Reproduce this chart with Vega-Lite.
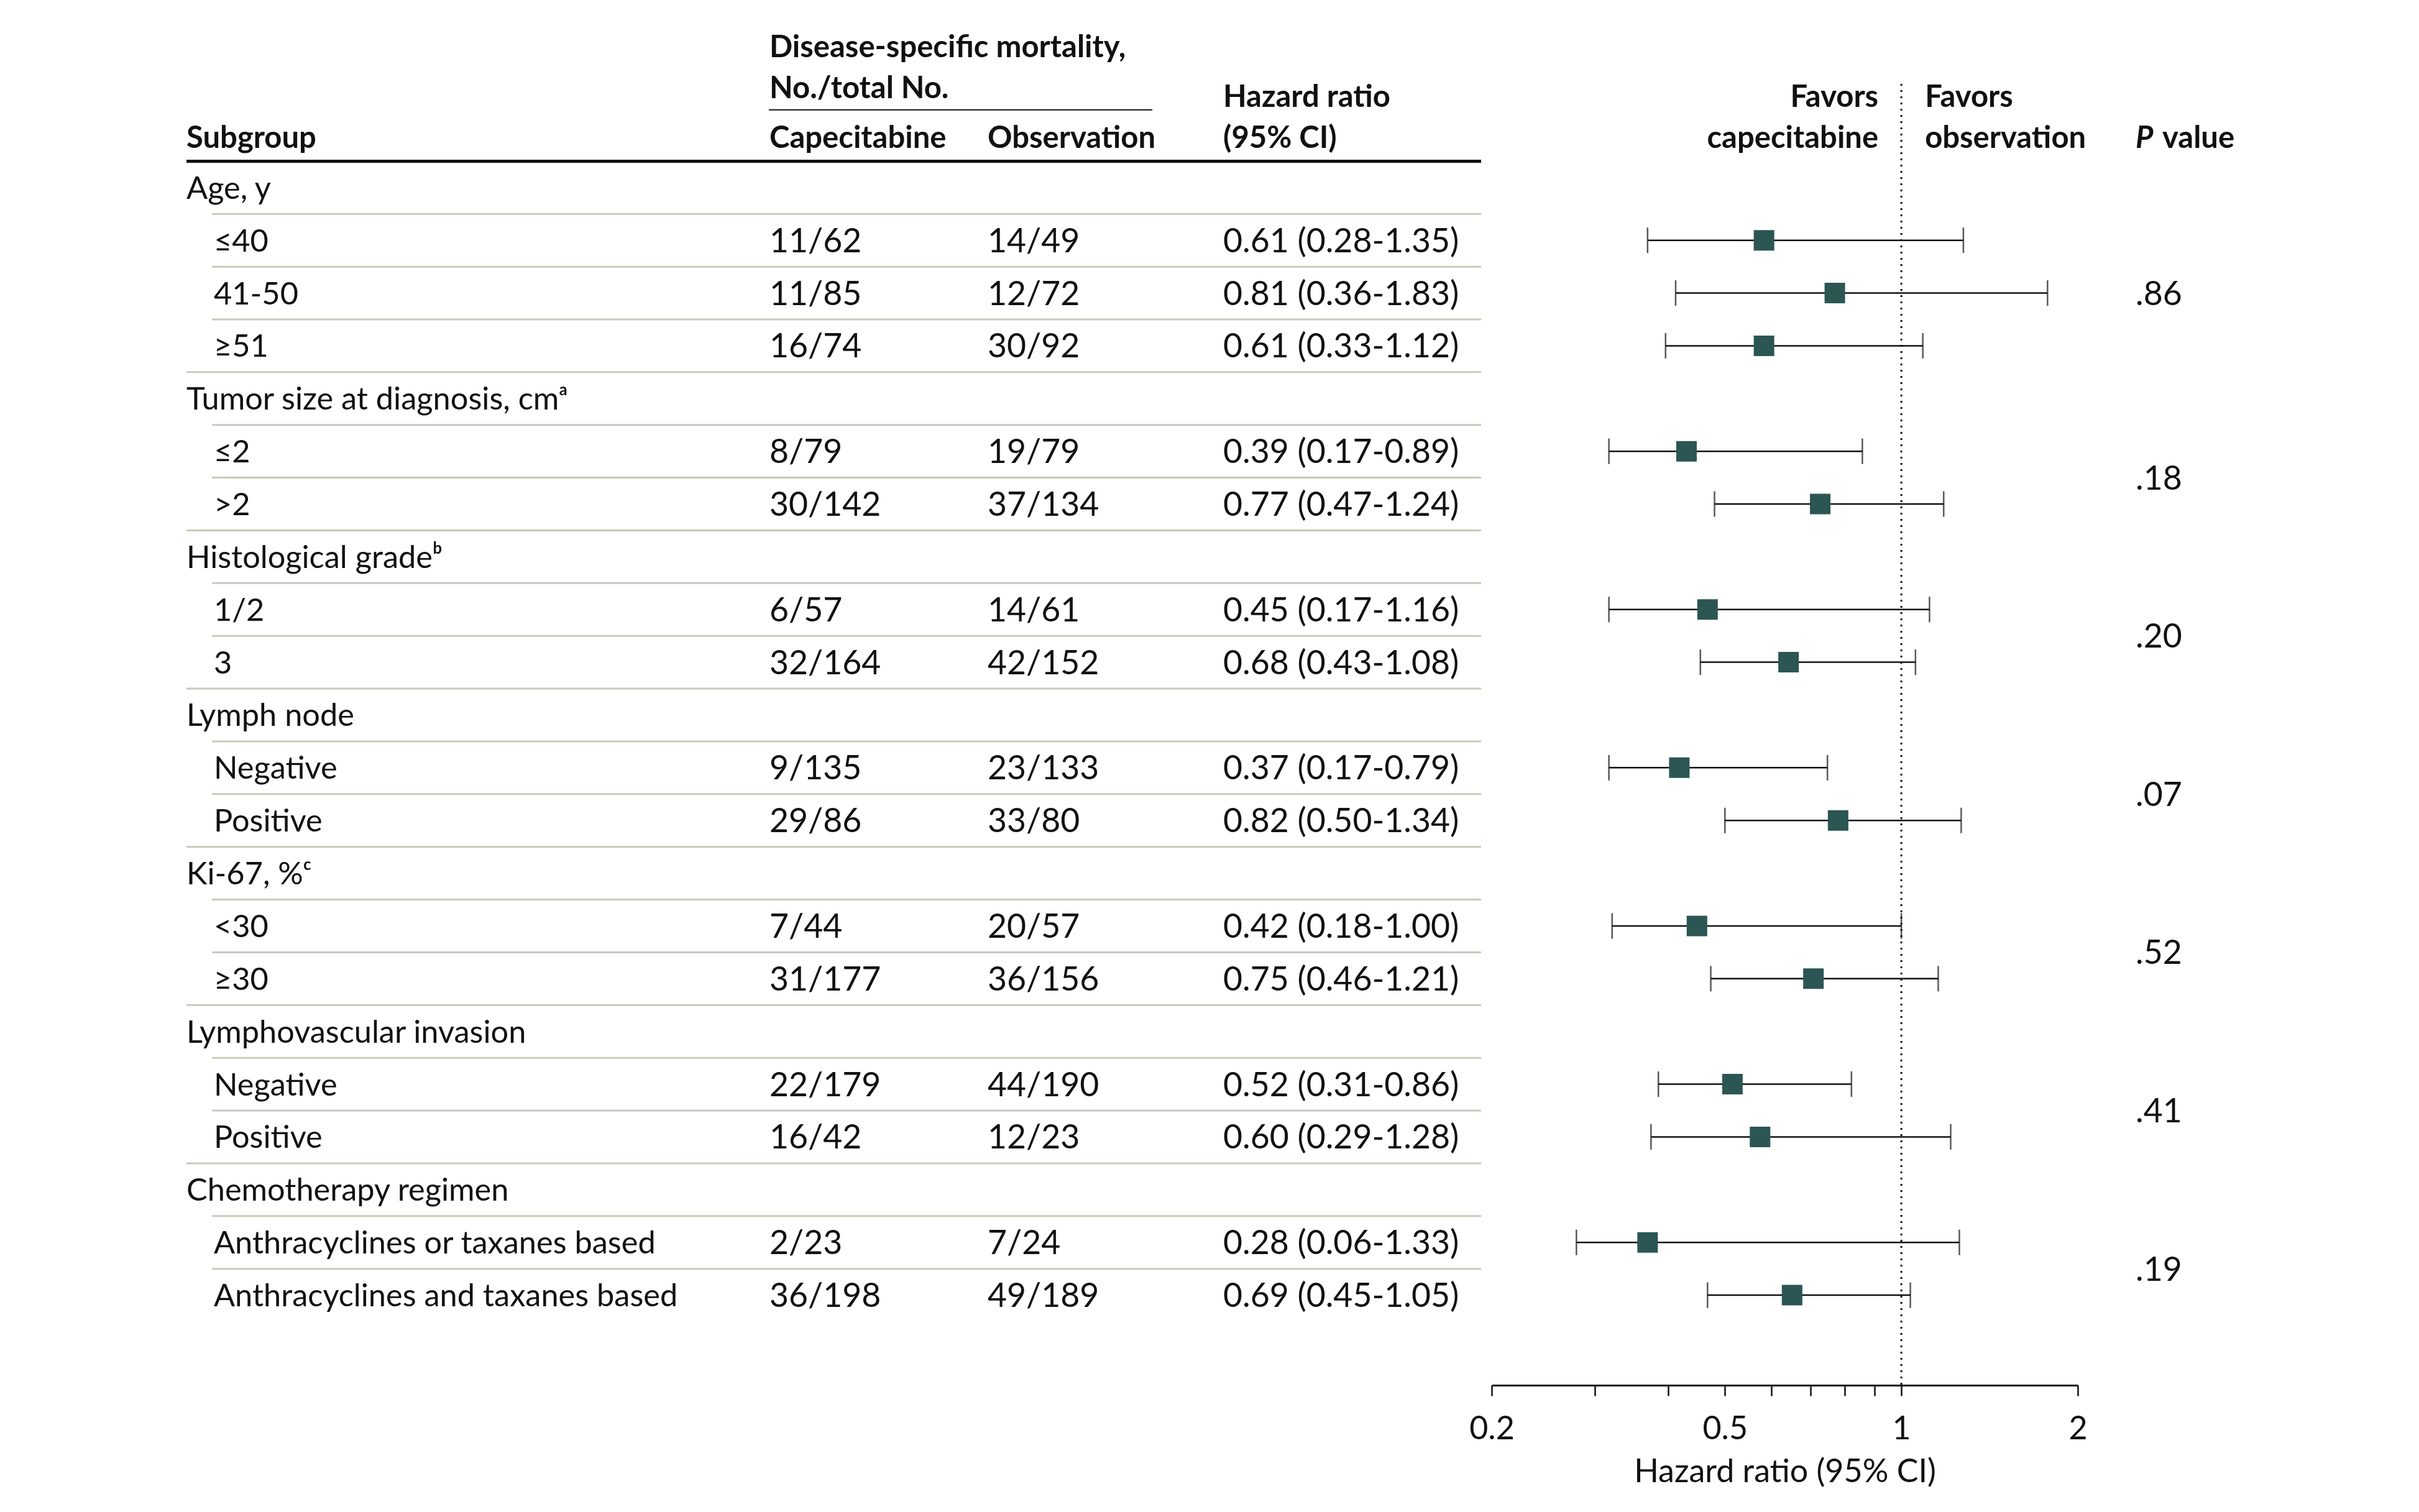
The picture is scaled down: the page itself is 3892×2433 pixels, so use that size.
{
  "$schema": "https://vega.github.io/schema/vega-lite/v6.json",
  "width": 3892,
  "height": 2229,
  "padding": 0,
  "autosize": {"type": "pad"},
  "background": "white",
  "config": {
    "view": {"stroke": null},
    "font": "Lato",
    "text": {"font": "Lato", "fontSize": 52, "color": "#111111", "baseline": "middle", "align": "left", "dy": 3}
  },
  "datasets": {
    "rows": [
      {"r": 0, "type": "cat", "label": "Age, y", "group": "Age"},
      {"r": 1, "type": "item", "group": "Age", "label": "≤40", "cap": "11/62", "obs": "14/49", "hr": "0.61 (0.28-1.35)", "plot_hr": 0.583, "plot_lo": 0.369, "plot_hi": 1.276, "p": ".86"},
      {"r": 2, "type": "item", "group": "Age", "label": "41-50", "cap": "11/85", "obs": "12/72", "hr": "0.81 (0.36-1.83)", "plot_hr": 0.770, "plot_lo": 0.412, "plot_hi": 1.776, "p": ".86"},
      {"r": 3, "type": "item", "group": "Age", "label": "≥51", "cap": "16/74", "obs": "30/92", "hr": "0.61 (0.33-1.12)", "plot_hr": 0.583, "plot_lo": 0.396, "plot_hi": 1.088, "p": ".86"},
      {"r": 4, "type": "cat", "label": "Tumor size at diagnosis, cmᵃ", "group": "Tumor"},
      {"r": 5, "type": "item", "group": "Tumor", "label": "≤2", "cap": "8/79", "obs": "19/79", "hr": "0.39 (0.17-0.89)", "plot_hr": 0.430, "plot_lo": 0.317, "plot_hi": 0.858, "p": ".18"},
      {"r": 6, "type": "item", "group": "Tumor", "label": ">2", "cap": "30/142", "obs": "37/134", "hr": "0.77 (0.47-1.24)", "plot_hr": 0.727, "plot_lo": 0.480, "plot_hi": 1.181, "p": ".18"},
      {"r": 7, "type": "cat", "label": "Histological gradeᵇ", "group": "Grade"},
      {"r": 8, "type": "item", "group": "Grade", "label": "1/2", "cap": "6/57", "obs": "14/61", "hr": "0.45 (0.17-1.16)", "plot_hr": 0.467, "plot_lo": 0.317, "plot_hi": 1.117, "p": ".20"},
      {"r": 9, "type": "item", "group": "Grade", "label": "3", "cap": "32/164", "obs": "42/152", "hr": "0.68 (0.43-1.08)", "plot_hr": 0.642, "plot_lo": 0.454, "plot_hi": 1.057, "p": ".20"},
      {"r": 10, "type": "cat", "label": "Lymph node", "group": "Lymph"},
      {"r": 11, "type": "item", "group": "Lymph", "label": "Negative", "cap": "9/135", "obs": "23/133", "hr": "0.37 (0.17-0.79)", "plot_hr": 0.418, "plot_lo": 0.317, "plot_hi": 0.748, "p": ".07"},
      {"r": 12, "type": "item", "group": "Lymph", "label": "Positive", "cap": "29/86", "obs": "33/80", "hr": "0.82 (0.50-1.34)", "plot_hr": 0.780, "plot_lo": 0.500, "plot_hi": 1.265, "p": ".07"},
      {"r": 13, "type": "cat", "label": "Ki-67, %ᶜ", "group": "Ki67"},
      {"r": 14, "type": "item", "group": "Ki67", "label": "<30", "cap": "7/44", "obs": "20/57", "hr": "0.42 (0.18-1.00)", "plot_hr": 0.448, "plot_lo": 0.321, "plot_hi": 1.0, "p": ".52"},
      {"r": 15, "type": "item", "group": "Ki67", "label": "≥30", "cap": "31/177", "obs": "36/156", "hr": "0.75 (0.46-1.21)", "plot_hr": 0.708, "plot_lo": 0.473, "plot_hi": 1.156, "p": ".52"},
      {"r": 16, "type": "cat", "label": "Lymphovascular invasion", "group": "LVI"},
      {"r": 17, "type": "item", "group": "LVI", "label": "Negative", "cap": "22/179", "obs": "44/190", "hr": "0.52 (0.31-0.86)", "plot_hr": 0.515, "plot_lo": 0.385, "plot_hi": 0.822, "p": ".41"},
      {"r": 18, "type": "item", "group": "LVI", "label": "Positive", "cap": "16/42", "obs": "12/23", "hr": "0.60 (0.29-1.28)", "plot_hr": 0.574, "plot_lo": 0.374, "plot_hi": 1.214, "p": ".41"},
      {"r": 19, "type": "cat", "label": "Chemotherapy regimen", "group": "Chemo"},
      {"r": 20, "type": "item", "group": "Chemo", "label": "Anthracyclines or taxanes based", "cap": "2/23", "obs": "7/24", "hr": "0.28 (0.06-1.33)", "plot_hr": 0.369, "plot_lo": 0.279, "plot_hi": 1.256, "p": ".19"},
      {"r": 21, "type": "item", "group": "Chemo", "label": "Anthracyclines and taxanes based", "cap": "36/198", "obs": "49/189", "hr": "0.69 (0.45-1.05)", "plot_hr": 0.651, "plot_lo": 0.467, "plot_hi": 1.036, "p": ".19"}
    ]
  },
  "data": {"name": "rows"},
  "resolve": {"scale": {"x": "independent"}, "axis": {"x": "independent"}},
  "layer": [
    {
      "layer": [
        {
          "transform": [{"filter": "datum.type == 'cat'"}],
          "mark": {"type": "rule", "yOffset": -42.4},
          "encoding": {
            "x": {"datum": 300, "type": "quantitative", "scale": {"domain": [0, 3892], "nice": false, "zero": false}, "axis": null},
            "x2": {"datum": 2383},
            "y": {"field": "r", "type": "quantitative", "scale": {"domain": [-3.556, 22.708], "reverse": true, "nice": false, "zero": false}, "axis": null},
            "color": {"condition": {"test": "datum.r == 0", "value": "#111111"}, "value": "#c9cabb"},
            "strokeWidth": {"condition": {"test": "datum.r == 0", "value": 5}, "value": 3}
          }
        },
        {
          "transform": [{"filter": "datum.type == 'item'"}],
          "mark": {"type": "rule", "yOffset": -42.4, "color": "#c9cabb", "strokeWidth": 3},
          "encoding": {
            "x": {"datum": 341, "type": "quantitative", "scale": {"domain": [0, 3892], "nice": false, "zero": false}, "axis": null},
            "x2": {"datum": 2383},
            "y": {"field": "r", "type": "quantitative", "axis": null}
          }
        },
        {
          "data": {"values": [{}]},
          "mark": {"type": "rule", "color": "#111111", "strokeWidth": 2},
          "encoding": {
            "x": {"datum": 1237, "type": "quantitative", "scale": {"domain": [0, 3892], "nice": false, "zero": false}, "axis": null},
            "x2": {"datum": 1854},
            "y": {"datum": -1.474, "type": "quantitative", "axis": null}
          }
        },
        {
          "transform": [{"filter": "datum.type == 'cat'"}],
          "mark": {"type": "text", "fontSize": 50.5},
          "encoding": {
            "x": {"datum": 300, "type": "quantitative", "scale": {"domain": [0, 3892], "nice": false, "zero": false}, "axis": null},
            "y": {"field": "r", "type": "quantitative", "axis": null},
            "text": {"field": "label"}
          }
        },
        {
          "transform": [{"filter": "datum.type == 'item'"}],
          "mark": {"type": "text", "fontSize": 50.5},
          "encoding": {
            "x": {"datum": 344, "type": "quantitative", "scale": {"domain": [0, 3892], "nice": false, "zero": false}, "axis": null},
            "y": {"field": "r", "type": "quantitative", "axis": null},
            "text": {"field": "label"}
          }
        },
        {
          "transform": [{"filter": "datum.type == 'item'"}],
          "mark": {"type": "text", "fontSize": 53.5},
          "encoding": {
            "x": {"datum": 1238, "type": "quantitative", "scale": {"domain": [0, 3892], "nice": false, "zero": false}, "axis": null},
            "y": {"field": "r", "type": "quantitative", "axis": null},
            "text": {"field": "cap"}
          }
        },
        {
          "transform": [{"filter": "datum.type == 'item'"}],
          "mark": {"type": "text", "fontSize": 53.5},
          "encoding": {
            "x": {"datum": 1589, "type": "quantitative", "scale": {"domain": [0, 3892], "nice": false, "zero": false}, "axis": null},
            "y": {"field": "r", "type": "quantitative", "axis": null},
            "text": {"field": "obs"}
          }
        },
        {
          "transform": [{"filter": "datum.type == 'item'"}],
          "mark": {"type": "text", "fontSize": 53.5},
          "encoding": {
            "x": {"datum": 1968, "type": "quantitative", "scale": {"domain": [0, 3892], "nice": false, "zero": false}, "axis": null},
            "y": {"field": "r", "type": "quantitative", "axis": null},
            "text": {"field": "hr"}
          }
        },
        {
          "transform": [
            {"filter": "datum.type == 'item'"},
            {"aggregate": [{"op": "mean", "field": "r", "as": "r"}], "groupby": ["group", "p"]}
          ],
          "mark": {"type": "text", "fontSize": 53.5},
          "encoding": {
            "x": {"datum": 3436, "type": "quantitative", "scale": {"domain": [0, 3892], "nice": false, "zero": false}, "axis": null},
            "y": {"field": "r", "type": "quantitative", "axis": null},
            "text": {"field": "p"}
          }
        },
        {
          "data": {"values": [{}]},
          "mark": {"type": "text", "fontWeight": "bold", "fontSize": 49, "text": "Subgroup"},
          "encoding": {
            "x": {"datum": 300, "type": "quantitative", "scale": {"domain": [0, 3892], "nice": false, "zero": false}, "axis": null},
            "y": {"datum": -0.96, "type": "quantitative", "axis": null}
          }
        },
        {
          "data": {"values": [{}]},
          "mark": {"type": "text", "fontWeight": "bold", "fontSize": 49, "text": "Disease-specific mortality,"},
          "encoding": {
            "x": {"datum": 1238, "type": "quantitative", "scale": {"domain": [0, 3892], "nice": false, "zero": false}, "axis": null},
            "y": {"datum": -2.68, "type": "quantitative", "axis": null}
          }
        },
        {
          "data": {"values": [{}]},
          "mark": {"type": "text", "fontWeight": "bold", "fontSize": 49, "text": "No./total No."},
          "encoding": {
            "x": {"datum": 1238, "type": "quantitative", "scale": {"domain": [0, 3892], "nice": false, "zero": false}, "axis": null},
            "y": {"datum": -1.91, "type": "quantitative", "axis": null}
          }
        },
        {
          "data": {"values": [{}]},
          "mark": {"type": "text", "fontWeight": "bold", "fontSize": 49, "text": "Capecitabine"},
          "encoding": {
            "x": {"datum": 1238, "type": "quantitative", "scale": {"domain": [0, 3892], "nice": false, "zero": false}, "axis": null},
            "y": {"datum": -0.96, "type": "quantitative", "axis": null}
          }
        },
        {
          "data": {"values": [{}]},
          "mark": {"type": "text", "fontWeight": "bold", "fontSize": 49, "text": "Observation"},
          "encoding": {
            "x": {"datum": 1589, "type": "quantitative", "scale": {"domain": [0, 3892], "nice": false, "zero": false}, "axis": null},
            "y": {"datum": -0.96, "type": "quantitative", "axis": null}
          }
        },
        {
          "data": {"values": [{}]},
          "mark": {"type": "text", "fontWeight": "bold", "fontSize": 49, "text": "Hazard ratio"},
          "encoding": {
            "x": {"datum": 1968, "type": "quantitative", "scale": {"domain": [0, 3892], "nice": false, "zero": false}, "axis": null},
            "y": {"datum": -1.74, "type": "quantitative", "axis": null}
          }
        },
        {
          "data": {"values": [{}]},
          "mark": {"type": "text", "fontWeight": "bold", "fontSize": 49, "text": "(95% CI)"},
          "encoding": {
            "x": {"datum": 1968, "type": "quantitative", "scale": {"domain": [0, 3892], "nice": false, "zero": false}, "axis": null},
            "y": {"datum": -0.96, "type": "quantitative", "axis": null}
          }
        },
        {
          "data": {"values": [{}]},
          "mark": {"type": "text", "fontWeight": "bold", "fontSize": 49, "fontStyle": "italic", "text": "P"},
          "encoding": {
            "x": {"datum": 3436, "type": "quantitative", "scale": {"domain": [0, 3892], "nice": false, "zero": false}, "axis": null},
            "y": {"datum": -0.96, "type": "quantitative", "axis": null}
          }
        },
        {
          "data": {"values": [{}]},
          "mark": {"type": "text", "fontWeight": "bold", "fontSize": 49, "text": "value"},
          "encoding": {
            "x": {"datum": 3479, "type": "quantitative", "scale": {"domain": [0, 3892], "nice": false, "zero": false}, "axis": null},
            "y": {"datum": -0.96, "type": "quantitative", "axis": null}
          }
        }
      ]
    },
    {
      "layer": [
        {
          "data": {"values": [{}]},
          "mark": {"type": "rule", "color": "#111111", "strokeWidth": 3, "strokeDash": [3, 7]},
          "encoding": {
            "x": {"datum": 1, "type": "quantitative", "scale": {"type": "log", "domain": [0.2, 2], "range": [2400, 3343], "nice": false}, "axis": {"title": "Hazard ratio (95% CI)", "values": [0.2, 0.3, 0.4, 0.5, 0.6, 0.7, 0.8, 0.9, 1, 2], "labelExpr": "indexof([0.2, 0.5, 1, 2], datum.value) >= 0 ? format(datum.value, '~g') : ''", "grid": false, "domainColor": "#111111", "domainWidth": 3, "tickColor": "#111111", "tickWidth": 2.5, "tickSize": 17, "labelFont": "Lato", "labelFontSize": 52, "labelColor": "#111111", "labelPadding": 28, "labelFlush": false, "labelOverlap": false, "titleFont": "Lato", "titleFontSize": 52, "titleFontWeight": "normal", "titleColor": "#111111", "titlePadding": 18}},
            "y": {"datum": -1.965, "type": "quantitative", "axis": null},
            "y2": {"datum": 22.708}
          }
        },
        {
          "transform": [{"filter": "datum.type == 'item'"}],
          "mark": {"type": "rule", "color": "#111111", "strokeWidth": 2.5},
          "encoding": {
            "x": {"field": "plot_lo", "type": "quantitative", "scale": {"type": "log", "domain": [0.2, 2], "range": [2400, 3343], "nice": false}, "axis": {"title": "Hazard ratio (95% CI)", "values": [0.2, 0.3, 0.4, 0.5, 0.6, 0.7, 0.8, 0.9, 1, 2], "labelExpr": "indexof([0.2, 0.5, 1, 2], datum.value) >= 0 ? format(datum.value, '~g') : ''", "grid": false, "domainColor": "#111111", "domainWidth": 3, "tickColor": "#111111", "tickWidth": 2.5, "tickSize": 17, "labelFont": "Lato", "labelFontSize": 52, "labelColor": "#111111", "labelPadding": 28, "labelFlush": false, "labelOverlap": false, "titleFont": "Lato", "titleFontSize": 52, "titleFontWeight": "normal", "titleColor": "#111111", "titlePadding": 18}},
            "x2": {"field": "plot_hi"},
            "y": {"field": "r", "type": "quantitative", "axis": null}
          }
        },
        {
          "transform": [{"filter": "datum.type == 'item'"}],
          "mark": {"type": "tick", "orient": "vertical", "size": 41, "thickness": 2.5, "color": "#111111"},
          "encoding": {
            "x": {"field": "plot_lo", "type": "quantitative", "scale": {"type": "log", "domain": [0.2, 2], "range": [2400, 3343], "nice": false}, "axis": {"title": "Hazard ratio (95% CI)", "values": [0.2, 0.3, 0.4, 0.5, 0.6, 0.7, 0.8, 0.9, 1, 2], "labelExpr": "indexof([0.2, 0.5, 1, 2], datum.value) >= 0 ? format(datum.value, '~g') : ''", "grid": false, "domainColor": "#111111", "domainWidth": 3, "tickColor": "#111111", "tickWidth": 2.5, "tickSize": 17, "labelFont": "Lato", "labelFontSize": 52, "labelColor": "#111111", "labelPadding": 28, "labelFlush": false, "labelOverlap": false, "titleFont": "Lato", "titleFontSize": 52, "titleFontWeight": "normal", "titleColor": "#111111", "titlePadding": 18}},
            "y": {"field": "r", "type": "quantitative", "axis": null}
          }
        },
        {
          "transform": [{"filter": "datum.type == 'item'"}],
          "mark": {"type": "tick", "orient": "vertical", "size": 41, "thickness": 2.5, "color": "#111111"},
          "encoding": {
            "x": {"field": "plot_hi", "type": "quantitative", "scale": {"type": "log", "domain": [0.2, 2], "range": [2400, 3343], "nice": false}, "axis": {"title": "Hazard ratio (95% CI)", "values": [0.2, 0.3, 0.4, 0.5, 0.6, 0.7, 0.8, 0.9, 1, 2], "labelExpr": "indexof([0.2, 0.5, 1, 2], datum.value) >= 0 ? format(datum.value, '~g') : ''", "grid": false, "domainColor": "#111111", "domainWidth": 3, "tickColor": "#111111", "tickWidth": 2.5, "tickSize": 17, "labelFont": "Lato", "labelFontSize": 52, "labelColor": "#111111", "labelPadding": 28, "labelFlush": false, "labelOverlap": false, "titleFont": "Lato", "titleFontSize": 52, "titleFontWeight": "normal", "titleColor": "#111111", "titlePadding": 18}},
            "y": {"field": "r", "type": "quantitative", "axis": null}
          }
        },
        {
          "transform": [{"filter": "datum.type == 'item'"}],
          "mark": {"type": "point", "shape": "square", "filled": true, "size": 1089, "color": "#2b5653", "opacity": 1, "strokeWidth": 0},
          "encoding": {
            "x": {"field": "plot_hr", "type": "quantitative", "scale": {"type": "log", "domain": [0.2, 2], "range": [2400, 3343], "nice": false}, "axis": {"title": "Hazard ratio (95% CI)", "values": [0.2, 0.3, 0.4, 0.5, 0.6, 0.7, 0.8, 0.9, 1, 2], "labelExpr": "indexof([0.2, 0.5, 1, 2], datum.value) >= 0 ? format(datum.value, '~g') : ''", "grid": false, "domainColor": "#111111", "domainWidth": 3, "tickColor": "#111111", "tickWidth": 2.5, "tickSize": 17, "labelFont": "Lato", "labelFontSize": 52, "labelColor": "#111111", "labelPadding": 28, "labelFlush": false, "labelOverlap": false, "titleFont": "Lato", "titleFontSize": 52, "titleFontWeight": "normal", "titleColor": "#111111", "titlePadding": 18}},
            "y": {"field": "r", "type": "quantitative", "axis": null}
          }
        },
        {
          "data": {"values": [{}]},
          "mark": {"type": "text", "fontWeight": "bold", "fontSize": 49, "align": "right", "dx": -37, "text": "Favors"},
          "encoding": {
            "x": {"datum": 1, "type": "quantitative"},
            "y": {"datum": -1.74, "type": "quantitative", "axis": null}
          }
        },
        {
          "data": {"values": [{}]},
          "mark": {"type": "text", "fontWeight": "bold", "fontSize": 49, "align": "right", "dx": -37, "text": "capecitabine"},
          "encoding": {
            "x": {"datum": 1, "type": "quantitative"},
            "y": {"datum": -0.96, "type": "quantitative", "axis": null}
          }
        },
        {
          "data": {"values": [{}]},
          "mark": {"type": "text", "fontWeight": "bold", "fontSize": 49, "align": "left", "dx": 38, "text": "Favors"},
          "encoding": {
            "x": {"datum": 1, "type": "quantitative"},
            "y": {"datum": -1.74, "type": "quantitative", "axis": null}
          }
        },
        {
          "data": {"values": [{}]},
          "mark": {"type": "text", "fontWeight": "bold", "fontSize": 49, "align": "left", "dx": 38, "text": "observation"},
          "encoding": {
            "x": {"datum": 1, "type": "quantitative"},
            "y": {"datum": -0.96, "type": "quantitative", "axis": null}
          }
        }
      ]
    }
  ]
}
